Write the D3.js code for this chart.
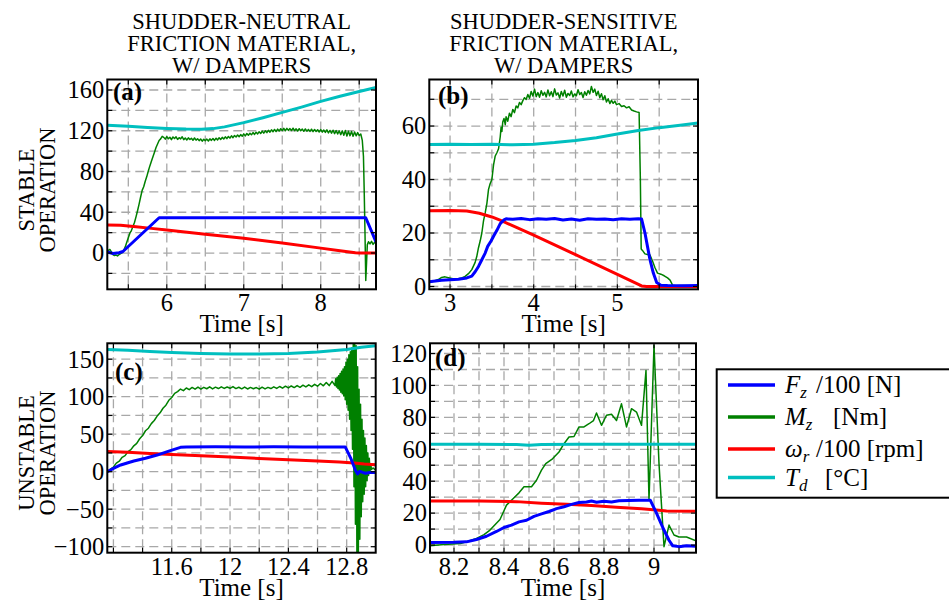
<!DOCTYPE html>
<html><head><meta charset="utf-8">
<script src="https://cdn.jsdelivr.net/npm/d3@7"></script>
<style>
body{margin:0;background:#fff}
svg{display:block}
text{font-family:"Liberation Serif","Times New Roman",serif;fill:#000}
</style>
</head><body>
<svg id="c" width="949" height="603"></svg>
<script>
// ---------------- DATA ----------------
const colTitles = [["SHUDDER-NEUTRAL","FRICTION MATERIAL,","W/ DAMPERS"],["SHUDDER-SENSITIVE","FRICTION MATERIAL,","W/ DAMPERS"]];
const rowTitles = [["STABLE","OPERATION"],["UNSTABLE","OPERATION"]];
const panelLabels = ["(a)","(b)","(c)","(d)"];
const xTitle = "Time [s]";

// tick labels
const aXTicks = [6,7,8],            aYTicks = [0,40,80,120,160];
const bXTicks = [3,4,5],            bYTicks = [0,20,40,60];
const cXTicks = [11.6,12,12.4,12.8], cYTicks = [-100,-50,0,50,100,150];
const dXTicks = [8.2,8.4,8.6,8.8,9], dYTicks = [0,20,40,60,80,100,120];

// panel (a) series  [time s, value]
const aFz = [[5.227,1],[5.3,-0.5],[5.38,0.3],[5.43,1.5],[5.9,34.6],[6.5,34.6],[7.0,34.5],[7.5,34.6],[8.0,34.5],[8.585,34.6],[8.718,11]];
const aWr = [[5.227,27.5],[5.4,27.3],[5.6,25.8],[5.8,24.2],[6.0,22.5],[6.5,18.5],[7.0,14.4],[7.5,9.8],[8.0,4.8],[8.25,2.3],[8.45,0.3],[8.5,0],[8.718,0]];
const aTd = [[5.227,125.5],[5.5,124.5],[5.75,123.3],[6.0,122.3],[6.25,121.6],[6.45,121.4],[6.6,122.1],[6.75,123.8],[7.0,128],[7.25,132.8],[7.5,138],[7.75,143.2],[8.0,148.8],[8.25,153.8],[8.5,158.5],[8.718,162.5]];
const aMz = [[5.227,0.5],[5.24,2.5],[5.26,3.5],[5.28,1.0],[5.30,-1.5],[5.32,-2.5],[5.34,-2.0],[5.36,-2.8],[5.38,-1.5],[5.40,-0.5],[5.42,0.5],[5.44,2.5],[5.46,6.0],[5.48,10.5],[5.50,15.0],[5.52,19.5],[5.54,22.0],[5.56,26.0],[5.58,30.0],[5.60,35.5],[5.62,41.5],[5.64,48.0],[5.66,55.0],[5.68,61.5],[5.70,65.0],[5.72,70.5],[5.74,75.0],[5.76,80.5],[5.78,85.5],[5.80,90.0],[5.82,94.5],[5.84,99.0],[5.86,103.5],[5.88,107.0],[5.90,110.5],[5.92,112.0],[5.94,114.5],
[5.96,113.5],[5.98,111.8],[6.00,114.2],[6.02,112.1],[6.04,113.6],[6.06,111.2],[6.08,113.9],[6.10,112.4],[6.12,114.0],[6.14,111.5],[6.16,113.2],[6.18,112.0],[6.20,114.1],[6.22,111.3],[6.24,112.8],[6.26,110.9],[6.28,113.0],[6.30,111.4],[6.32,112.6],[6.34,110.7],[6.36,112.9],[6.38,110.8],[6.40,112.2],[6.42,110.3],[6.44,111.9],[6.46,109.8],[6.48,111.6],[6.50,110.2],[6.52,111.8],[6.54,109.9],[6.56,112.0],[6.58,110.6],[6.60,112.3],[6.62,110.5],[6.64,112.7],[6.66,111.0],[6.68,113.1],[6.70,111.4],[6.72,113.5],[6.74,111.9],[6.76,114.0],[6.78,112.3],[6.80,114.4],[6.82,112.8],[6.84,115.0],[6.86,113.2],[6.88,115.3],[6.90,113.9],[6.92,115.8],[6.94,114.1],[6.96,116.2],[6.98,114.6],
[7.00,116.9],[7.02,115.0],[7.04,117.3],[7.06,115.6],[7.08,117.6],[7.10,116.0],[7.12,118.2],[7.14,116.4],[7.16,118.5],[7.18,116.9],[7.20,119.0],[7.22,117.3],[7.24,119.6],[7.26,117.7],[7.28,119.9],[7.30,118.2],[7.32,120.4],[7.34,118.6],[7.36,120.9],[7.38,119.0],[7.40,121.3],[7.42,119.2],[7.44,121.6],[7.46,119.7],[7.48,122.0],[7.50,120.1],[7.52,122.4],[7.54,120.0],[7.56,122.3],[7.58,120.4],[7.60,122.1],[7.62,120.2],[7.64,122.5],[7.66,120.1],[7.68,121.9],[7.70,119.8],[7.72,122.0],[7.74,120.0],[7.76,121.6],[7.78,119.5],[7.80,121.8],[7.82,119.6],[7.84,121.3],[7.86,119.4],[7.88,121.5],[7.90,119.1],[7.92,121.2],[7.94,119.3],[7.96,121.0],[7.98,118.8],
[8.00,121.1],[8.02,118.6],[8.04,120.7],[8.06,118.4],[8.08,120.9],[8.10,117.9],[8.12,120.3],[8.14,117.6],[8.16,120.5],[8.18,117.2],[8.20,120.1],[8.22,116.8],[8.24,119.8],[8.26,116.2],[8.28,119.9],[8.30,115.5],[8.32,120.2],[8.34,114.9],[8.36,119.6],[8.38,115.2],[8.40,119.3],[8.42,114.6],[8.44,118.8],[8.46,115.0],[8.48,118.2],[8.50,115.3],[8.52,116.8],[8.54,110.5],[8.555,95],[8.565,60],[8.575,20],[8.585,-27],[8.595,-10],[8.605,8],[8.62,11],[8.64,9],[8.66,11.5],[8.68,8.5],[8.70,10.5],[8.718,9]];

// panel (b)
const bFz = [[2.752,1.8],[2.8,2.0],[2.9,2.3],[3.0,2.5],[3.1,2.7],[3.2,3.2],[3.26,3.9],[3.3,5.5],[3.34,7.5],[3.38,10.0],[3.42,12.5],[3.45,15.0],[3.49,17.0],[3.52,18.8],[3.56,21.0],[3.6,23.5],[3.64,24.8],[3.67,25.3],[3.75,25.1],[3.85,25.4],[3.95,25.0],[4.05,25.3],[4.15,25.1],[4.25,25.4],[4.35,24.9],[4.45,25.2],[4.55,24.8],[4.65,25.3],[4.75,25.1],[4.85,25.2],[4.95,25.0],[5.05,25.3],[5.15,25.1],[5.25,25.3],[5.29,25.2],[5.33,20],[5.36,15],[5.39,10],[5.43,5],[5.47,1.5],[5.52,0.5],[5.6,0.4],[5.8,0.3],[5.964,0.4]];
const bWr = [[2.752,28.3],[3.0,28.4],[3.2,28.2],[3.35,27.4],[3.5,26.0],[3.62,24.5],[3.8,22.0],[4.0,19.2],[4.5,11.9],[5.0,4.5],[5.29,0.2],[5.35,0],[5.964,0]];
const bTd = [[2.752,53.1],[3.0,53.2],[3.25,53.1],[3.5,53.2],[3.75,53.0],[4.0,53.2],[4.25,53.8],[4.5,54.6],[4.75,55.6],[5.0,57.0],[5.25,58.3],[5.5,59.4],[5.75,60.3],[5.964,61.1]];
const bMz = [[2.752,1.5],[2.78,1.8],[2.82,2.2],[2.86,2.6],[2.90,3.4],[2.94,3.6],[2.98,3.3],[3.02,3.0],[3.06,2.7],[3.10,2.9],[3.14,3.2],[3.18,3.8],[3.22,4.8],[3.26,6.3],[3.30,9.0],[3.32,11.3],[3.34,14.5],[3.36,17.0],[3.38,20.0],[3.40,24.5],[3.42,27.5],[3.44,31.0],[3.46,36.3],[3.48,38.5],[3.50,40.0],[3.52,45.5],[3.54,48.8],[3.56,50.0],[3.58,51.5],[3.60,56.0],[3.61,59.5],[3.62,58.0],[3.63,61.5],[3.645,62.8],[3.66,60.5],[3.67,63.5],[3.69,61.8],[3.71,64.8],[3.73,63.5],[3.75,66.2],[3.77,65.0],[3.79,67.5],[3.81,66.8],[3.83,68.8],[3.85,68.0],[3.87,69.5],[3.89,70.6],[3.91,69.9],[3.93,71.8],[3.95,70.4],[3.97,72.9],[3.99,71.2],[4.01,73.8],[4.03,71.0],[4.05,72.5],[4.07,70.8],[4.09,73.2],[4.11,71.5],[4.13,72.6],[4.15,70.9],[4.17,73.5],[4.19,71.3],[4.21,72.8],[4.23,71.0],[4.25,73.9],[4.27,71.6],[4.29,72.4],[4.31,70.5],[4.33,72.9],[4.35,71.2],[4.37,73.4],[4.39,70.8],[4.41,72.2],[4.43,71.4],[4.45,73.1],[4.47,70.9],[4.49,72.0],[4.51,71.3],[4.53,73.6],[4.55,71.8],[4.57,72.5],[4.59,70.7],[4.61,72.8],[4.63,71.5],[4.65,73.3],[4.67,72.0],[4.69,74.8],[4.71,72.6],[4.73,73.8],[4.75,71.4],[4.77,73.0],[4.79,70.6],[4.81,72.1],[4.83,69.8],[4.85,71.3],[4.87,69.0],[4.89,70.2],[4.91,68.4],[4.93,69.6],[4.95,68.5],[4.97,69.3],[4.99,68.0],[5.02,68.4],[5.05,67.3],[5.08,67.6],[5.11,66.8],[5.14,67.2],[5.17,66.0],[5.20,65.6],[5.23,65.3],[5.26,65.1],[5.275,40],[5.285,14],[5.30,13.5],[5.33,12.2],[5.36,12.0],[5.39,11.8],[5.42,9.5],[5.45,7.0],[5.48,5.0],[5.52,4.6],[5.56,4.0],[5.60,3.2],[5.63,2.4],[5.66,0.5],[5.70,0.3],[5.80,0.4],[5.90,0.3],[5.964,0.4]];

// panel (c)
const cFz = [[11.158,0],[11.2,4.5],[11.25,9],[11.3,12],[11.34,14.2],[11.42,18],[11.5,22.2],[11.58,27.5],[11.66,32.5],[11.7,33],[11.9,33.2],[12.1,33],[12.3,33.2],[12.5,33],[12.7,33.1],[12.79,33],[12.83,17],[12.86,2],[12.875,-3],[12.89,0.5],[12.91,-1],[12.93,-2],[12.96,-1],[12.999,-1.2]];
const cWr = [[11.158,27],[11.3,25.8],[11.45,24.4],[11.6,23],[11.8,21.2],[12.0,19.5],[12.2,17.7],[12.4,16],[12.6,14.2],[12.75,12.8],[12.85,11.5],[12.92,10.2],[12.999,9.2]];
const cTd = [[11.158,163],[11.3,162],[11.45,160.3],[11.6,158.8],[11.8,157.5],[12.0,157],[12.2,157],[12.4,157.5],[12.6,159.5],[12.8,163],[12.9,166],[12.999,168]];
const cMz = [[11.158,0],[11.18,3.5],[11.20,6.2],[11.22,11.5],[11.24,14.0],[11.26,19.2],[11.28,21.5],[11.30,26.8],[11.32,29.4],[11.34,34.5],[11.36,37.8],[11.38,43.9],[11.40,48.2],[11.42,54.6],[11.44,58.0],[11.46,64.1],[11.48,68.3],[11.50,74.2],[11.52,78.5],[11.54,84.6],[11.56,88.7],[11.58,95.2],[11.60,98.9],[11.62,104.5],[11.64,106.8],[11.66,110.2],
[11.68,108.1],[11.70,111.6],[11.72,109.4],[11.74,112.3],[11.76,110.0],[11.78,112.8],[11.80,110.2],[11.82,112.5],[11.84,110.6],[11.86,113.1],[11.88,110.4],[11.90,112.7],[11.92,110.9],[11.94,113.2],[11.96,111.0],[11.98,112.9],[12.00,111.2],[12.02,113.5],[12.04,110.8],[12.06,112.6],[12.08,110.5],[12.10,112.9],[12.12,110.3],[12.14,112.4],[12.16,110.6],[12.18,112.2],[12.20,110.1],[12.22,112.7],[12.24,110.4],[12.26,112.5],[12.28,110.9],[12.30,113.2],[12.32,111.0],[12.34,113.6],[12.36,111.4],[12.38,114.0],[12.40,111.7],[12.42,114.3],[12.44,112.2],[12.46,114.9],[12.48,112.5],[12.50,115.3],[12.52,113.0],[12.54,115.8],[12.56,113.4],[12.58,116.5],[12.60,114.0],[12.62,117.6],[12.64,114.5],[12.66,118.9],[12.68,114.8],[12.70,120.5],[12.72,115.0],
[12.725,124],[12.73,113],[12.735,126],[12.74,111],[12.745,128],[12.75,109],[12.755,131],[12.76,106],[12.765,134],[12.77,104],[12.775,137],[12.78,101],[12.785,140],[12.79,96],[12.795,146],[12.80,90],[12.805,150],[12.81,82],[12.815,156],[12.82,70],[12.825,160],[12.83,55],[12.835,165],[12.84,30],[12.845,170],[12.85,-20],[12.855,172],[12.86,-70],[12.865,168],[12.87,-110],[12.875,140],[12.88,-110],[12.885,110],[12.89,-90],[12.895,90],[12.90,-60],[12.905,70],[12.91,-40],[12.915,55],[12.92,-30],[12.925,45],[12.93,-20],[12.935,35],[12.94,-12],[12.945,25],[12.95,-5],[12.955,18],[12.96,0],[12.965,10],[12.97,3],[12.98,5],[12.999,2]];

// panel (d)
const dFz = [[8.104,1.6],[8.2,1.7],[8.25,2.0],[8.29,3.5],[8.33,5.5],[8.37,8.5],[8.40,11.0],[8.43,12.5],[8.46,14.5],[8.49,15.5],[8.52,18.0],[8.55,19.5],[8.58,21.0],[8.61,22.8],[8.64,24.0],[8.67,25.5],[8.70,26.6],[8.73,27.0],[8.75,27.6],[8.77,26.8],[8.80,27.5],[8.83,27.0],[8.86,27.8],[8.90,27.9],[8.94,28.1],[8.985,28.1],[9.01,20],[9.035,11],[9.06,3],[9.075,-0.5],[9.10,-1],[9.13,-0.5],[9.168,-0.8]];
const dWr = [[8.104,27.6],[8.3,27.6],[8.45,27.2],[8.55,26.2],[8.65,25.5],[8.75,24.8],[8.85,23.7],[8.95,22.7],[9.02,21.8],[9.05,21.3],[9.168,21.2]];
const dTd = [[8.104,63.2],[8.3,63.2],[8.45,63.0],[8.5,62.6],[8.55,63.0],[8.7,63.1],[8.9,63.1],[9.05,63.1],[9.168,63.2]];
const dMz = [[8.104,-0.5],[8.16,0.3],[8.226,1],[8.26,2.5],[8.29,4.2],[8.32,6.5],[8.344,9.4],[8.384,16],[8.41,25],[8.436,29],[8.46,32.7],[8.48,36.5],[8.51,36.5],[8.53,40.6],[8.55,46.9],[8.567,51],[8.594,54],[8.62,58.3],[8.64,63.5],[8.66,67.7],[8.68,68],[8.70,74],[8.72,74],[8.74,76],[8.758,78],[8.77,82.7],[8.79,75],[8.81,81.3],[8.83,81.9],[8.85,78],[8.87,88.5],[8.89,74],[8.91,85.4],[8.93,83.3],[8.95,75],[8.968,109.4],[8.98,28],[9.0,125],[9.02,51],[9.04,-1],[9.06,12.5],[9.08,6.3],[9.1,5],[9.13,5],[9.168,2.7]];

// ---------------- DRAW ----------------
const svg = d3.select('#c');
svg.append('rect').attr('width',949).attr('height',603).attr('fill','#fff');

const COL = {Fz:'#0000ff', Mz:'#008000', Wr:'#ff0000', Td:'#00bfbf'};
const W = {Fz:3, Mz:1.5, Wr:3, Td:3};

const panels = [
  {xd:[5.227,8.718], yd:[-35.6,170.3], L:107.3, R:376, T:79.5, B:289.3, xs:0.5, ys:20, xt:aXTicks, yt:aYTicks, s:{Mz:aMz,Wr:aWr,Fz:aFz,Td:aTd}, lab:panelLabels[0], lx:113, ly:100},
  {xd:[2.752,5.964], yd:[-1.05,77.4], L:429.3, R:698, T:79.5, B:289.3, xs:0.5, ys:10, xt:bXTicks, yt:bYTicks, s:{Mz:bMz,Wr:bWr,Fz:bFz,Td:bTd}, lab:panelLabels[1], lx:438, ly:104},
  {xd:[11.158,12.999], yd:[-108,171.2], L:107.3, R:375.7, T:343.3, B:552.7, xs:0.2, ys:25, xt:cXTicks, yt:cYTicks, s:{Mz:cMz,Wr:cWr,Fz:cFz,Td:cTd}, lab:panelLabels[2], lx:115, ly:380},
  {xd:[8.104,9.168], yd:[-4.8,126.4], L:430, R:696, T:343.3, B:552.7, xs:0.1, ys:10, xt:dXTicks, yt:dYTicks, s:{Mz:dMz,Wr:dWr,Fz:dFz,Td:dTd}, lab:panelLabels[3], lx:435, ly:366}
];

function gridVals(d, step){
  const out=[]; const s=Math.ceil(d[0]/step-1e-9);
  for(let k=s; k*step<=d[1]+1e-9; k++){ out.push(+(k*step).toFixed(6)); }
  return out;
}
const fmt = v => String(+v.toFixed(3)).replace('-','\u2212');

panels.forEach((p,i)=>{
  const x = d3.scaleLinear().domain(p.xd).range([p.L,p.R]);
  const y = d3.scaleLinear().domain(p.yd).range([p.B,p.T]);
  const g = svg.append('g');
  const cid = 'clip'+i;
  g.append('clipPath').attr('id',cid).append('rect')
    .attr('x',p.L).attr('y',p.T).attr('width',p.R-p.L).attr('height',p.B-p.T);
  const xg = gridVals(p.xd,p.xs), yg = gridVals(p.yd,p.ys);
  // grid
  const grid = g.append('g').attr('stroke','#a8a8a8').attr('stroke-width',1.3).attr('stroke-dasharray','9,5');
  xg.forEach(v=>grid.append('line').attr('x1',x(v)).attr('x2',x(v)).attr('y1',p.T).attr('y2',p.B));
  yg.forEach(v=>grid.append('line').attr('y1',y(v)).attr('y2',y(v)).attr('x1',p.L).attr('x2',p.R));
  // series
  const line = d3.line().x(d=>x(d[0])).y(d=>y(d[1]));
  const lg = g.append('g').attr('clip-path',`url(#${cid})`);
  ['Mz','Wr','Fz','Td'].forEach(k=>{
    lg.append('path').datum(p.s[k]).attr('d',line).attr('fill','none')
      .attr('stroke',COL[k]).attr('stroke-width',W[k]).attr('stroke-linejoin','round');
  });
  // ticks (inward, all sides)
  const tk = g.append('g').attr('stroke','#000').attr('stroke-width',1.2);
  xg.forEach(v=>{
    tk.append('line').attr('x1',x(v)).attr('x2',x(v)).attr('y1',p.B).attr('y2',p.B-5);
    tk.append('line').attr('x1',x(v)).attr('x2',x(v)).attr('y1',p.T).attr('y2',p.T+5);
  });
  yg.forEach(v=>{
    tk.append('line').attr('y1',y(v)).attr('y2',y(v)).attr('x1',p.L).attr('x2',p.L+5);
    tk.append('line').attr('y1',y(v)).attr('y2',y(v)).attr('x1',p.R).attr('x2',p.R-5);
  });
  // frame
  g.append('rect').attr('x',p.L).attr('y',p.T).attr('width',p.R-p.L).attr('height',p.B-p.T)
    .attr('fill','none').attr('stroke','#000').attr('stroke-width',2);
  // tick labels
  p.xt.forEach(v=>g.append('text').attr('x',x(v)).attr('y',p.B+22).attr('text-anchor','middle')
    .attr('font-size',24.5).text(fmt(v)));
  p.yt.forEach(v=>g.append('text').attr('x',p.L-3).attr('y',y(v)).attr('dy','0.34em').attr('text-anchor','end')
    .attr('font-size',24.5).text(fmt(v)));
  // axis title
  g.append('text').attr('x',(p.L+p.R)/2).attr('y',p.B+43).attr('text-anchor','middle')
    .attr('font-size',25).text(xTitle);
  // panel label
  g.append('text').attr('x',p.lx).attr('y',p.ly).attr('font-size',25).attr('font-weight','bold').text(p.lab);
});

// column titles
[241.7,563.7].forEach((cx,i)=>{
  colTitles[i].forEach((t,j)=>{
    svg.append('text').attr('x',cx).attr('y',28.5+j*22.2).attr('text-anchor','middle')
      .attr('font-size',22.5).text(t);
  });
});
// row titles
[190,453].forEach((cy,i)=>{
  rowTitles[i].forEach((t,j)=>{
    const bx = 33.5 + j*21.5;
    svg.append('text').attr('transform',`translate(${bx},${cy}) rotate(-90)`)
      .attr('text-anchor','middle').attr('font-size',22.5).text(t);
  });
});

// legend
const leg = svg.append('g');
leg.append('rect').attr('x',716.7).attr('y',369.3).attr('width',236).attr('height',128.4)
  .attr('fill','#fff').attr('stroke','#000').attr('stroke-width',2);
const legRows = [
  {k:'Fz', y:385, sym:'F', sub:'z', rest:'/100 [N]', rx:816},
  {k:'Mz', y:417, sym:'M', sub:'z', rest:'[Nm]', rx:833},
  {k:'Wr', y:449, sym:'\u03c9', sub:'r', rest:'/100 [rpm]', rx:816},
  {k:'Td', y:477.5, sym:'T', sub:'d', rest:'[\u00b0C]', rx:825}
];
legRows.forEach(r=>{
  leg.append('line').attr('x1',728).attr('x2',775).attr('y1',r.y).attr('y2',r.y)
    .attr('stroke',COL[r.k]).attr('stroke-width',3.5);
  const t = leg.append('text').attr('x',785).attr('y',r.y+8).attr('font-size',25);
  t.append('tspan').attr('font-style','italic').text(r.sym);
  t.append('tspan').attr('font-style','italic').attr('font-size',17).attr('dy',5).text(r.sub);
  t.append('tspan').attr('x',r.rx).attr('dy',-5).text(r.rest);
});
</script>
</body></html>
